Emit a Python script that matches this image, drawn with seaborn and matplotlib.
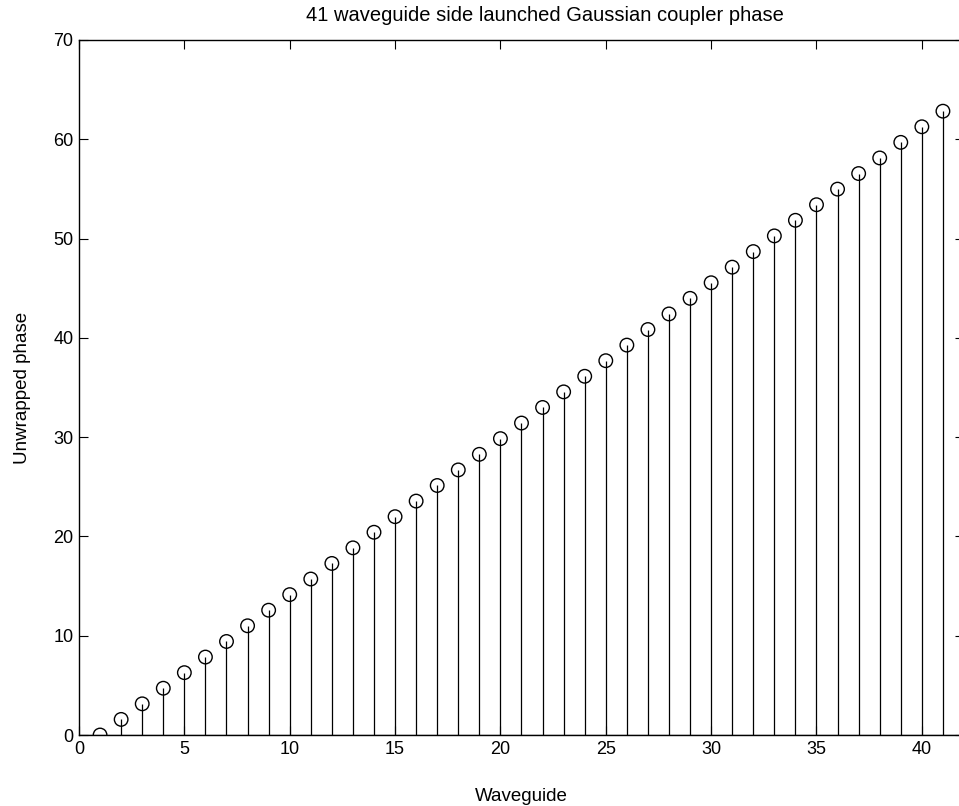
import matplotlib
matplotlib.use("Agg")
import matplotlib.pyplot as plt
import seaborn as sns
import pandas as pd

waveguide = list(range(1, 42))
phase = [0.00, 1.57, 3.14, 4.71, 6.28, 7.85, 9.42, 11.00, 12.57, 14.14,
         15.71, 17.28, 18.85, 20.42, 21.99, 23.56, 25.13, 26.70, 28.27, 29.85,
         31.42, 32.99, 34.56, 36.13, 37.70, 39.27, 40.84, 42.41, 43.98, 45.55,
         47.12, 48.69, 50.27, 51.84, 53.41, 54.98, 56.55, 58.12, 59.69, 61.26,
         62.83]
x_ticks = [0, 5, 10, 15, 20, 25, 30, 35, 40]
y_ticks = [0, 10, 20, 30, 40, 50, 60, 70]

df = pd.DataFrame({"Waveguide": waveguide, "Unwrapped phase": phase})

sns.set_style("white")
plt.rcParams["font.family"] = ["Liberation Sans", "DejaVu Sans"]
plt.rcParams["text.color"] = "black"
plt.rcParams["axes.labelcolor"] = "black"

W, H = 959, 806
fig = plt.figure(figsize=(W / 100, H / 100), dpi=100)
# plot box runs a little past the right edge of the canvas
ax = fig.add_axes([79 / W, 71 / H, 885 / W, 695 / H])

# stems from the baseline up to each value
ax.vlines(df["Waveguide"], 0, df["Unwrapped phase"], color="black", linewidth=0.9)
ax.axhline(0, color="black", linewidth=0.9)
sns.scatterplot(data=df, x="Waveguide", y="Unwrapped phase", ax=ax,
                marker="o", s=95, facecolor="none", edgecolor="black",
                linewidth=1.0, zorder=3)

ax.set_xlim(0, 42)
ax.set_ylim(0, 70)
ax.set_xticks(x_ticks)
ax.set_yticks(y_ticks)
ax.tick_params(direction="in", length=6.5, width=0.8, labelsize=13, pad=4,
               top=True, right=True, bottom=True, left=True, colors="black")
for s in ax.spines.values():
    s.set_color("black")
    s.set_linewidth(1.0)
    s.set_visible(True)

ax.set_title("41 waveguide side launched Gaussian coupler phase",
             fontsize=14.5, x=0.527, pad=14, color="black")
ax.set_xlabel("Waveguide", fontsize=13.5, labelpad=22, color="black")
ax.set_ylabel("Unwrapped phase", fontsize=13.5, labelpad=16, color="black")

fig.savefig("out.png", dpi=100)
